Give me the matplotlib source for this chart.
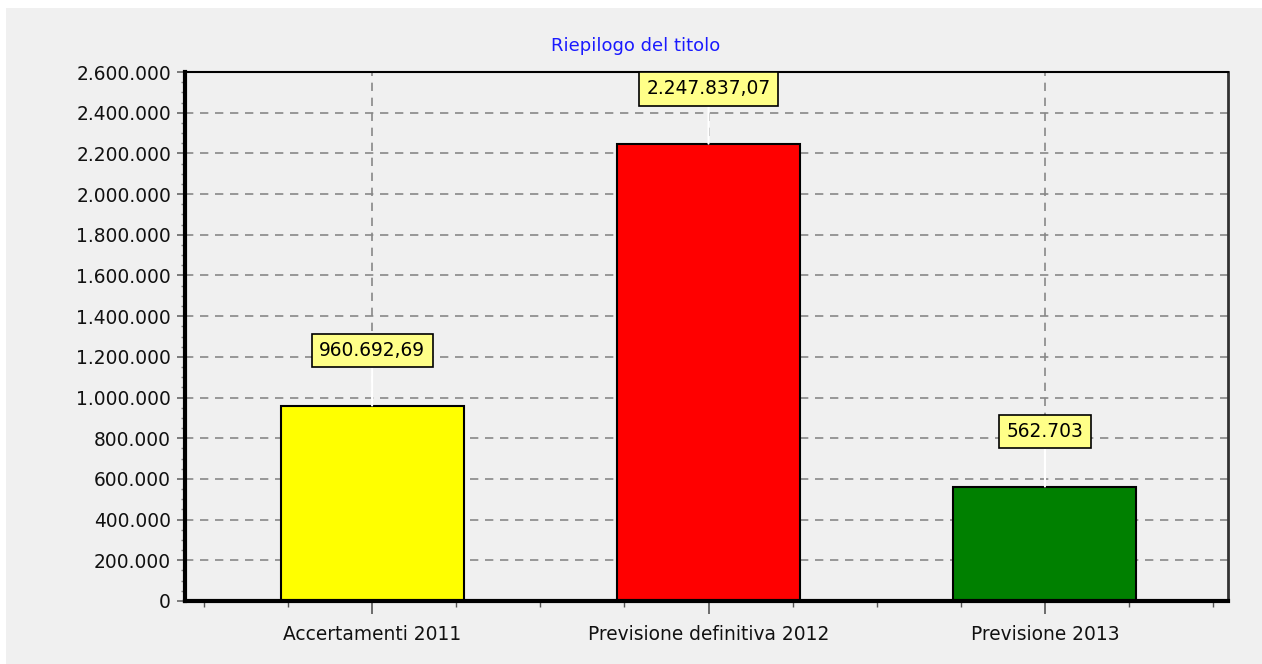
import matplotlib.pyplot as plt
from matplotlib.patches import Rectangle
from matplotlib.ticker import FuncFormatter, MultipleLocator

categories = ['Accertamenti 2011', 'Previsione definitiva 2012', 'Previsione 2013']
values = [960692.69, 2247837.07, 562703]
value_labels = ['960.692,69', '2.247.837,07', '562.703']
colors = ['#ffff00', '#ff0000', '#008000']
title = 'Riepilogo del titolo'

plt.rcParams['font.family'] = 'DejaVu Sans'

fig = plt.figure(figsize=(12.62, 6.64), dpi=100, facecolor='white')
fig.patches.append(Rectangle((6 / 1262, 0), 1, 1 - 8 / 664, transform=fig.transFigure,
                             facecolor='#f0f0f0', edgecolor='none', zorder=-10))

ax = fig.add_axes([185 / 1262, 1 - 601 / 664, (1228 - 185) / 1262, (601 - 72) / 664])
ax.set_facecolor('#f0f0f0')

x = list(range(len(categories)))
ax.bar(x, values, width=0.544, color=colors, edgecolor='black', linewidth=1.5, zorder=2)

for xi, v, lab in zip(x, values, value_labels):
    ax.annotate(lab, xy=(xi, v), xytext=(0, 55), textcoords='offset pixels',
                ha='center', va='center', fontsize=13.4, zorder=5,
                bbox=dict(boxstyle='square,pad=0.4', fc='#ffff88', ec='black', lw=1.2),
                arrowprops=dict(arrowstyle='-', color='white', lw=1.5,
                                shrinkA=0, shrinkB=0))

ax.set_xlim(-0.556, 2.544)
ax.set_ylim(0, 2600000)
ax.set_xticks(x)
ax.set_xticklabels(categories, fontsize=13.4)
ax.xaxis.set_minor_locator(MultipleLocator(0.25))
ax.yaxis.set_major_locator(MultipleLocator(200000))
ax.yaxis.set_minor_locator(MultipleLocator(50000))
ax.yaxis.set_major_formatter(FuncFormatter(lambda v, p: f'{int(v):,}'.replace(',', '.')))
ax.tick_params(axis='y', labelsize=13.4, length=6, width=1.2, color='#666666', pad=4)
ax.tick_params(axis='x', length=9, width=1.2, color='#555555', pad=8)
ax.tick_params(which='minor', axis='x', length=4, width=1, color='#555555')
ax.tick_params(which='minor', axis='y', direction='out', length=3, width=1, color='#888888')
ax.tick_params(labelcolor='#111111')

ax.set_axisbelow(True)
ax.grid(True, which='major', color='#888888', linestyle=(0, (5, 4)), linewidth=1.2)

ax.spines['left'].set_linewidth(3)
ax.spines['bottom'].set_linewidth(3)
ax.spines['top'].set_linewidth(1.5)
ax.spines['right'].set_linewidth(2)
ax.spines['right'].set_color('#333333')

fig.text(636 / 1262, 1 - 46 / 664, title, ha='center', va='center',
         fontsize=13, color='#1a1aff')

fig.savefig('out.png', dpi=100, facecolor=fig.get_facecolor())
